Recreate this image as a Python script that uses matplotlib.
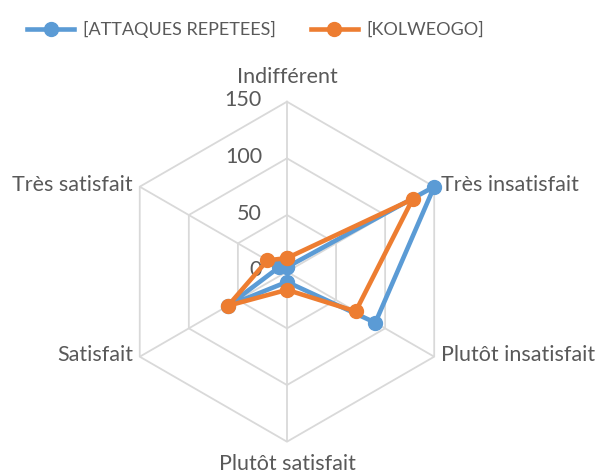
import numpy as np
import matplotlib
matplotlib.use('Agg')
import matplotlib.pyplot as plt

plt.rcParams['font.family'] = ['Lato', 'DejaVu Sans']

# categories, clockwise from the top
categories = ['Indifférent', 'Très insatisfait', 'Plutôt insatisfait',
              'Plutôt satisfait', 'Satisfait', 'Très satisfait']
attaques = [4, 150, 90, 9, 60, 8]
kolweogo = [12, 128, 70, 16, 60, 20]
ticks = [0, 50, 100, 150]

blue = '#5B9BD5'
orange = '#ED7D31'
grid = '#D9D9D9'
txt = '#595959'

n = len(categories)
theta = np.arange(n) * 2 * np.pi / n
th_closed = np.append(theta, theta[0])

fig = plt.figure(figsize=(6.02, 4.73), dpi=100)
ax = fig.add_axes([0.1943, 0.0662, 0.5648, 0.7188], projection='polar')
ax.set_theta_offset(np.pi / 2)
ax.set_theta_direction(-1)
ax.set_ylim(0, 150)
ax.grid(False)
ax.spines['polar'].set_visible(False)
ax.set_xticks([])
ax.set_yticks([])
ax.patch.set_alpha(0)

# hexagonal grid + spokes
for t in ticks[1:]:
    ax.plot(th_closed, [t] * (n + 1), color=grid, lw=1.3, zorder=1, clip_on=False)
for th in theta:
    ax.plot([th, th], [0, 150], color=grid, lw=1.3, zorder=1)

# radial tick labels
for t in ticks:
    ax.annotate(str(t), (0, t), xytext=(-18, 1), textcoords='offset points',
                ha='right', va='center', fontsize=15.5, color=txt)

# category labels
pos = [
    (0, 150, (0, 18), 'center', 'center'),
    (theta[1], 150, (5, 1), 'left', 'center'),
    (theta[2], 150, (5, 1), 'left', 'center'),
    (theta[3], 150, (0, -16), 'center', 'center'),
    (theta[4], 150, (-5, 1), 'right', 'center'),
    (theta[5], 150, (-5, 1), 'right', 'center'),
]
for lab, (th, r, off, ha, va) in zip(categories, pos):
    ax.annotate(lab, (th, r), xytext=off, textcoords='offset points',
                ha=ha, va=va, fontsize=15.5, color=txt, annotation_clip=False)

ax.plot(th_closed, attaques + attaques[:1], color=blue, lw=3.3, marker='o',
        markersize=10, label='[ATTAQUES REPETEES]', zorder=3, clip_on=False)
ax.plot(th_closed, kolweogo + kolweogo[:1], color=orange, lw=3.3, marker='o',
        markersize=10, label='[KOLWEOGO]', zorder=4, clip_on=False)

leg = fig.legend(loc='upper center', bbox_to_anchor=(0.425, 0.99), ncol=2,
                 frameon=False, fontsize=13, handlelength=2.6,
                 columnspacing=1.9, handletextpad=0.5)
for t in leg.get_texts():
    t.set_color(txt)

fig.savefig('out.png', dpi=100)
